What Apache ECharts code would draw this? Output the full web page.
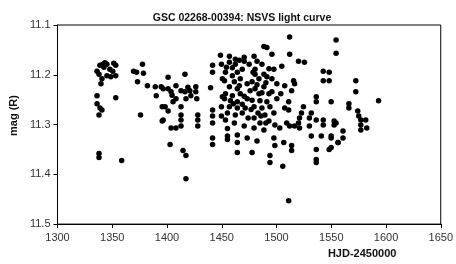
<!DOCTYPE html>
<html>
<head>
<meta charset="utf-8">
<script src="https://cdn.jsdelivr.net/npm/echarts@6/dist/echarts.min.js"></script>
<style>
  html, body { margin: 0; padding: 0; background: #fff; }
  #main { width: 456px; height: 264px; }
</style>
</head>
<body>
<div id="main"></div>
<script>
var season1 = [
  [1336.1, 11.193], [1338.8, 11.181], [1341.5, 11.179], [1345.1, 11.179], [1347.8, 11.189],
  [1353.2, 11.181], [1345.1, 11.202], [1348.7, 11.204], [1353.2, 11.202], [1340.6, 11.208],
  [1339.7, 11.218], [1336.1, 11.242], [1336.1, 11.258], [1338.8, 11.267], [1340.6, 11.271],
  [1337.9, 11.281], [1353.2, 11.246], [1337.9, 11.358], [1337.9, 11.366], [1358.6, 11.372],
  [1342.4, 11.185], [1337.9, 11.199], [1350.5, 11.193], [1343.3, 11.176], [1351.4, 11.177]
];
var season2 = [
  [1377.6, 11.179], [1369.5, 11.193], [1372.2, 11.195], [1378.5, 11.197], [1373.1, 11.214],
  [1382.1, 11.222], [1389.3, 11.224], [1390.2, 11.242], [1394.7, 11.224], [1375.8, 11.281],
  [1395.6, 11.264], [1395.6, 11.293], [1396.5, 11.228], [1401.0, 11.205], [1401.0, 11.228],
  [1403.7, 11.234], [1408.2, 11.222], [1412.8, 11.232], [1416.4, 11.234], [1416.4, 11.199],
  [1420.9, 11.232], [1421.8, 11.242], [1417.3, 11.248], [1408.2, 11.248], [1405.5, 11.254],
  [1398.3, 11.264], [1401.0, 11.273], [1412.8, 11.264], [1412.8, 11.281], [1412.8, 11.291],
  [1396.5, 11.291], [1428.1, 11.281], [1428.1, 11.291], [1428.1, 11.303], [1403.7, 11.307],
  [1408.2, 11.307], [1412.8, 11.303], [1402.8, 11.340], [1414.6, 11.352], [1417.3, 11.362],
  [1417.3, 11.409], [1426.3, 11.234], [1426.3, 11.224], [1427.2, 11.248], [1419.1, 11.225],
  [1404.6, 11.241]
];
var season3 = [
  [1448.8, 11.161], [1441.6, 11.181], [1441.6, 11.195], [1439.8, 11.226], [1441.6, 11.271],
  [1441.6, 11.283], [1441.6, 11.297], [1441.6, 11.327], [1441.6, 11.340], [1450.6, 11.244],
  [1488.5, 11.143], [1491.2, 11.145], [1495.8, 11.159], [1457.0, 11.163], [1462.4, 11.169],
  [1470.5, 11.165], [1479.5, 11.163], [1457.0, 11.175], [1462.4, 11.179], [1470.5, 11.173],
  [1486.7, 11.179], [1480.4, 11.189], [1453.4, 11.195], [1459.7, 11.202], [1464.2, 11.195],
  [1480.4, 11.199], [1497.6, 11.189], [1452.5, 11.212], [1461.5, 11.214], [1466.9, 11.208],
  [1477.7, 11.214], [1484.0, 11.208], [1491.2, 11.204], [1495.8, 11.208], [1457.0, 11.224],
  [1464.2, 11.228], [1480.4, 11.228], [1488.5, 11.224], [1453.4, 11.238], [1459.7, 11.242],
  [1466.9, 11.238], [1484.0, 11.238], [1493.1, 11.238], [1452.5, 11.248], [1457.9, 11.252],
  [1464.2, 11.254], [1484.9, 11.252], [1491.2, 11.254], [1457.0, 11.264], [1464.2, 11.267],
  [1479.5, 11.264], [1486.7, 11.267], [1494.0, 11.264], [1455.2, 11.277], [1462.4, 11.281],
  [1489.4, 11.281], [1497.6, 11.277], [1453.4, 11.291], [1461.5, 11.297], [1479.5, 11.287],
  [1493.1, 11.293], [1479.5, 11.307], [1498.5, 11.301], [1455.2, 11.323], [1455.2, 11.330],
  [1464.2, 11.321], [1464.2, 11.336], [1497.6, 11.327], [1498.5, 11.342], [1494.0, 11.362],
  [1494.0, 11.376], [1473.2, 11.218], [1473.2, 11.248], [1475.9, 11.232], [1471.4, 11.267],
  [1468.7, 11.189], [1475.0, 11.179], [1482.2, 11.173], [1488.5, 11.199], [1500.3, 11.218],
  [1500.3, 11.248], [1495.8, 11.234], [1483.1, 11.277], [1474.1, 11.287], [1468.7, 11.277],
  [1449.7, 11.264], [1449.7, 11.283], [1450.6, 11.208], [1449.7, 11.179], [1473.2, 11.327],
  [1482.2, 11.333], [1477.7, 11.356], [1488.5, 11.311], [1484.9, 11.297], [1464.2, 11.356],
  [1459.7, 11.186], [1466.0, 11.222], [1470.5, 11.243], [1477.7, 11.251], [1482.2, 11.220],
  [1486.7, 11.236], [1490.3, 11.216], [1493.1, 11.188], [1460.6, 11.258], [1468.7, 11.259],
  [1476.8, 11.270], [1485.8, 11.283], [1490.3, 11.297], [1455.2, 11.308], [1470.5, 11.303],
  [1466.0, 11.171], [1454.3, 11.185], [1478.6, 11.195]
];
var season4 = [
  [1512.0, 11.124], [1512.0, 11.159], [1520.1, 11.173], [1525.5, 11.175], [1504.8, 11.183],
  [1542.7, 11.193], [1548.1, 11.195], [1548.1, 11.212], [1542.7, 11.212], [1554.4, 11.130],
  [1554.4, 11.157], [1515.6, 11.212], [1507.5, 11.222], [1513.8, 11.232], [1511.1, 11.254],
  [1507.5, 11.267], [1511.1, 11.271], [1536.3, 11.244], [1536.3, 11.254], [1549.9, 11.254],
  [1524.6, 11.264], [1522.8, 11.277], [1521.0, 11.287], [1520.1, 11.297], [1531.8, 11.277],
  [1509.3, 11.297], [1512.0, 11.303], [1516.5, 11.303], [1521.0, 11.307], [1530.0, 11.287],
  [1536.3, 11.291], [1542.7, 11.291], [1530.0, 11.303], [1542.7, 11.301], [1503.0, 11.307],
  [1506.6, 11.336], [1531.8, 11.323], [1540.9, 11.323], [1549.9, 11.323], [1513.8, 11.342],
  [1513.8, 11.352], [1536.3, 11.350], [1548.1, 11.350], [1536.3, 11.370], [1536.3, 11.376],
  [1505.7, 11.384], [1511.1, 11.453], [1554.4, 11.297], [1556.2, 11.336], [1503.9, 11.238],
  [1572.4, 11.212], [1572.4, 11.234], [1593.2, 11.252], [1566.1, 11.258], [1566.1, 11.267],
  [1574.2, 11.273], [1575.1, 11.283], [1577.0, 11.291], [1581.5, 11.291], [1577.0, 11.301],
  [1582.4, 11.307], [1577.0, 11.311], [1552.6, 11.293], [1552.6, 11.301], [1560.7, 11.313],
  [1560.7, 11.327], [1556.2, 11.336], [1549.9, 11.327], [1549.9, 11.346], [1516.5, 11.218]
];

var allPoints = season1.concat(season2, season3, season4);

var myChart = echarts.init(document.getElementById('main'));

var axisFont = { fontFamily: 'Liberation Sans, Arial, sans-serif', fontSize: 11, color: '#333' };

option = {
  animation: false,
  backgroundColor: '#fff',
  title: {
    text: 'GSC 02268-00394: NSVS light curve',
    left: 237,
    top: 8,
    textAlign: 'center',
    textStyle: { fontFamily: 'Liberation Sans, Arial, sans-serif', fontSize: 10.5, fontWeight: 'bold', color: '#111' }
  },
  grid: {
    left: 53, right: 15, top: 25, bottom: 36,
    show: true, borderColor: '#000', borderWidth: 1
  },
  xAxis: {
    type: 'value',
    min: 1300, max: 1650, interval: 50,
    name: 'HJD-2450000',
    nameLocation: 'middle',
    nameGap: 19,
    nameTextStyle: {
      fontFamily: 'Liberation Sans, Arial, sans-serif', fontSize: 11, fontWeight: 'bold', color: '#111',
      padding: [0, 0, 0, 226]
    },
    axisLine: { lineStyle: { color: '#000', width: 1 } },
    axisTick: { inside: false, length: 4, lineStyle: { color: '#000' } },
    axisLabel: Object.assign({ formatter: function (v) { return String(v); } }, axisFont),
    splitLine: { show: false }
  },
  yAxis: {
    type: 'value',
    inverse: true,
    min: 11.1, max: 11.5, interval: 0.1,
    name: 'mag (R)',
    nameLocation: 'middle',
    nameGap: 32,
    nameTextStyle: {
      fontFamily: 'Liberation Sans, Arial, sans-serif', fontSize: 11, fontWeight: 'bold', color: '#111',
      padding: [0, 0, 0, 18]
    },
    axisLine: { show: true, lineStyle: { color: '#000', width: 1 } },
    axisTick: { show: true, inside: false, length: 4, lineStyle: { color: '#000' } },
    axisLabel: Object.assign({ formatter: function (v) { return v.toFixed(1); }, margin: 7 }, axisFont),
    splitLine: { show: false }
  },
  series: [{
    name: 'NSVS',
    type: 'scatter',
    symbol: 'circle',
    symbolSize: 5.5,
    itemStyle: { color: '#000', opacity: 1 },
    data: allPoints
  }]
};

myChart.setOption(option);
</script>
</body>
</html>
